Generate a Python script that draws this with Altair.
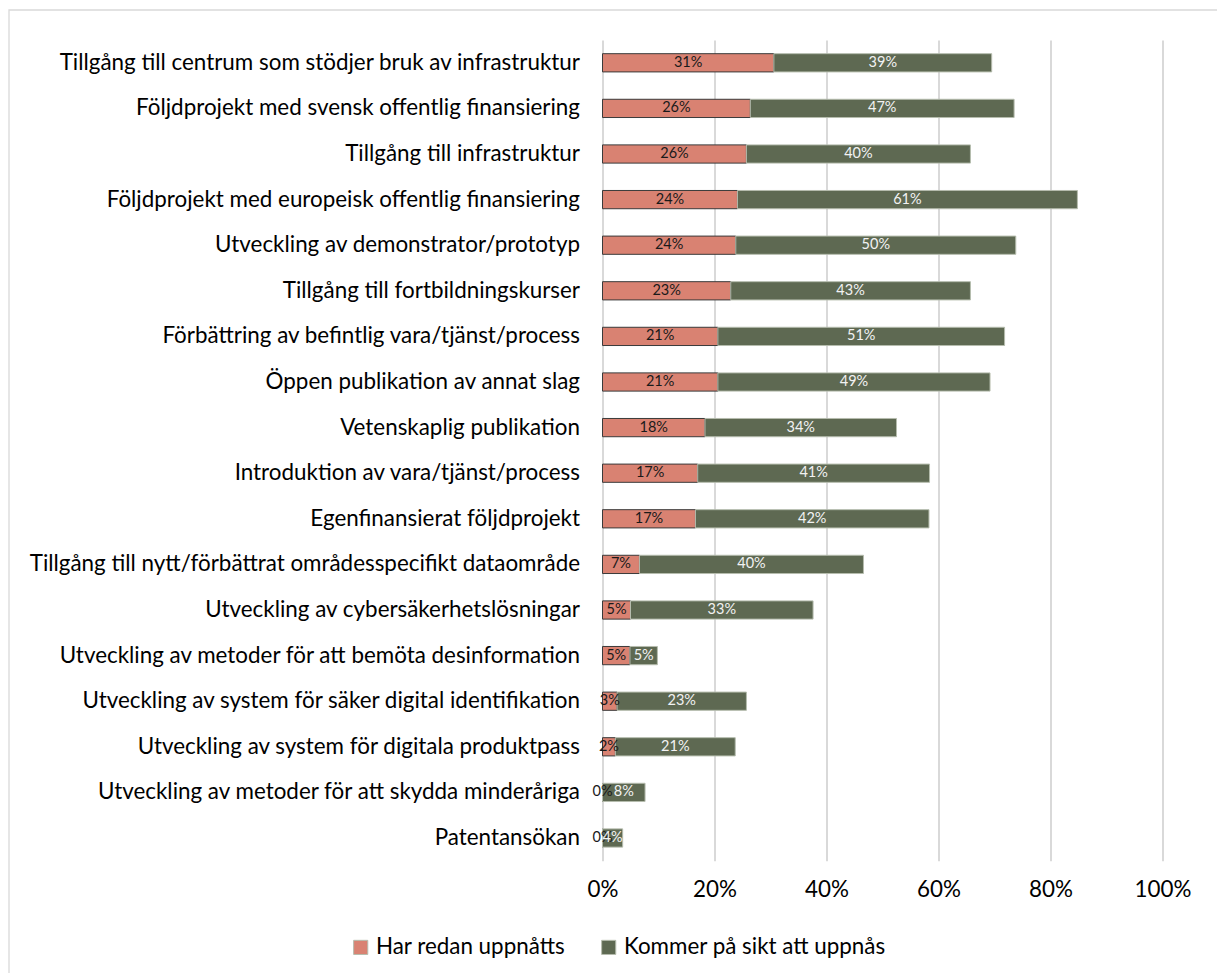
import altair as alt
import pandas as pd

categories = [
    "Tillgång till centrum som stödjer bruk av infrastruktur",
    "Följdprojekt med svensk offentlig finansiering",
    "Tillgång till infrastruktur",
    "Följdprojekt med europeisk offentlig finansiering",
    "Utveckling av demonstrator/prototyp",
    "Tillgång till fortbildningskurser",
    "Förbättring av befintlig vara/tjänst/process",
    "Öppen publikation av annat slag",
    "Vetenskaplig publikation",
    "Introduktion av vara/tjänst/process",
    "Egenfinansierat följdprojekt",
    "Tillgång till nytt/förbättrat områdesspecifikt dataområde",
    "Utveckling av cybersäkerhetslösningar",
    "Utveckling av metoder för att bemöta desinformation",
    "Utveckling av system för säker digital identifikation",
    "Utveckling av system för digitala produktpass",
    "Utveckling av metoder för att skydda minderåriga",
    "Patentansökan",
]
already = [30.6, 26.4, 25.7, 24.1, 23.8, 22.9, 20.6, 20.6, 18.3, 17.0, 16.6, 6.6, 5.0, 4.9, 2.6, 2.3, 0.0, 0.0]
future = [38.9, 47.1, 40.0, 60.7, 50.0, 42.8, 51.2, 48.6, 34.2, 41.4, 41.7, 40.0, 32.6, 4.9, 23.1, 21.4, 7.6, 3.6]
series_names = ["Har redan uppnåtts", "Kommer på sikt att uppnås"]
series_colors = ["#D98272", "#5E6952"]
x_ticks = [0, 0.2, 0.4, 0.6, 0.8, 1.0]

FONT = "Lato"
FS = 22.4

rows = []
for i, cat in enumerate(categories):
    start = 0.0
    for s, vals in zip(series_names, [already, future]):
        v = vals[i] / 100.0
        rows.append({
            "cat": cat,
            "series": s,
            "order": series_names.index(s),
            "value": v,
            "start": start,
            "end": start + v,
            "mid": start + v / 2.0,
        })
        start += v
df = pd.DataFrame(rows)

base = alt.Chart(df)

y_enc = alt.Y(
    "cat:N",
    sort=categories,
    title=None,
    scale=alt.Scale(paddingInner=0.6, paddingOuter=0.3),
    axis=alt.Axis(
        domain=False, ticks=False, labelPadding=23, labelFontSize=FS,
        labelFont=FONT, labelColor="#000000", labelLimit=700,
    ),
)

bars = base.mark_bar(strokeWidth=1).encode(
    x=alt.X(
        "start:Q",
        scale=alt.Scale(domain=[0, 1]),
        title=None,
        axis=alt.Axis(
            format=".0%", values=x_ticks, grid=True, gridColor="#d9d9d9",
            gridWidth=2, domain=False, ticks=False, labelPadding=18,
            labelFontSize=FS, labelFont=FONT, labelColor="#000000",
            labelFlush=False, labelOverlap=False,
        ),
    ),
    x2="end:Q",
    y=y_enc,
    color=alt.Color(
        "series:N",
        scale=alt.Scale(domain=series_names, range=series_colors),
        title=None,
        legend=alt.Legend(
            orient="none", direction="horizontal", legendX=-253, legendY=896,
            symbolType="square", symbolSize=200, symbolStrokeWidth=1,
            labelFontSize=FS, labelFont=FONT, labelColor="#000000",
            labelOffset=4, columnPadding=32, labelLimit=400,
        ),
    ),
    stroke=alt.condition(
        alt.datum.series == series_names[0], alt.value("#3a3a3a"), alt.value("#b5bcad")
    ),
    order=alt.Order("order:Q"),
)

labels = base.mark_text(fontSize=14.5, font=FONT, baseline="middle", align="center").encode(
    x=alt.X("mid:Q"),
    y=alt.Y("cat:N", sort=categories),
    text=alt.Text("value:Q", format=".0%"),
    color=alt.condition(
        alt.datum.series == series_names[0], alt.value("#1a1a1a"), alt.value("#f2f2f2")
    ),
)

border = alt.Chart(alt.Data(values=[{"a": 1}])).mark_rect(
    fill="transparent", stroke="#d9d9d9", strokeWidth=1.3
).encode(
    x=alt.value(-593.5), x2=alt.value(640), y=alt.value(-30), y2=alt.value(960)
)

chart = alt.layer(border, bars, labels).properties(
    width=560,
    height=820.8,
    padding={"left": 602.5, "top": 40, "right": 54.5, "bottom": 112.2},
    autosize=alt.AutoSizeParams(type="none"),
    background="#ffffff",
).configure_view(stroke="transparent")

chart.save("out.html", embed_options={"renderer": "svg", "actions": False})
